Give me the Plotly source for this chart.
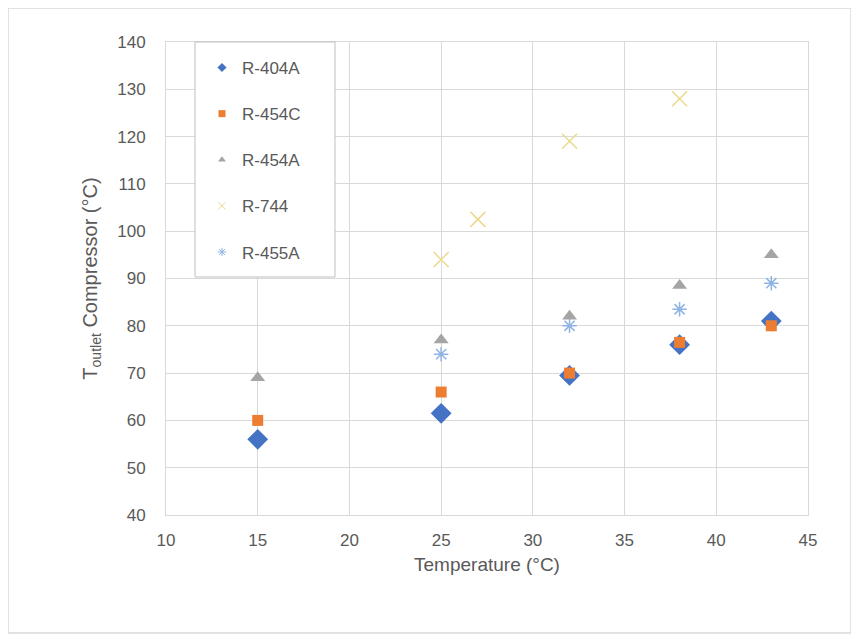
import plotly.graph_objects as go

names = ["R-404A", "R-454C", "R-454A", "R-744", "R-455A"]
x_404a = [15, 25, 32, 38, 43]
y_404a = [56, 61.5, 69.5, 76, 81]
x_454c = [15, 25, 32, 38, 43]
y_454c = [60, 66, 70, 76.5, 80]
x_454a = [15, 25, 32, 38, 43]
y_454a = [69, 77, 82, 88.5, 95]
x_744 = [25, 27, 32, 38]
y_744 = [94, 102.5, 119, 128]
x_455a = [25, 32, 38, 43]
y_455a = [74, 80, 83.5, 89]

# page body has an 8px margin; figure fills the rest of the 859x640 window
W, H = 851, 632
OFF = 8
PL, PR, PT, PB = 166, 808, 42, 515   # plot area in window pixels
L, T = PL - OFF, PT - OFF
pw, ph = PR - PL, PB - PT
R, B = W - L - pw, H - T - ph

def px(xp):
    return (xp - PL) / pw

def py(yp):
    return (PB - yp) / ph

FONT = "Liberation Sans, Arial, sans-serif"

fig = go.Figure()
specs = [
    (x_404a, y_404a, "diamond", "#4472C4", 16, 0),
    (x_454c, y_454c, "square", "#ED7D31", 11, 0),
    (x_454a, y_454a, "triangle-up", "#A5A5A5", 13, 0),
    (x_744, y_744, "x-thin", "#EBD98C", 15, 1.5),
    (x_455a, y_455a, "asterisk", "#8EB4E3", 12, 1.5),
]
for name, (xs, ys, sym, col, sz, lw) in zip(names, specs):
    mline = dict(width=lw, color=col) if lw else dict(width=0)
    fig.add_trace(go.Scatter(
        x=xs, y=ys, mode="markers", name=name, legendgroup=name, showlegend=False,
        marker=dict(symbol=sym, color=col, size=sz, line=mline),
    ))
    # small legend symbol, like the reference legend
    fig.add_trace(go.Scatter(
        x=[None], y=[None], mode="markers", name=name, legendgroup=name,
        marker=dict(symbol=sym, color=col, size=7, line=dict(width=1, color=col) if lw else dict(width=0)),
    ))

fig.update_layout(
    width=W, height=H,
    margin=dict(l=L, r=R, t=T, b=B),
    paper_bgcolor="white", plot_bgcolor="white",
    font=dict(family=FONT, color="#595959", size=17),
    xaxis=dict(range=[10, 45], dtick=5, showgrid=True, gridcolor="#D9D9D9",
               showline=True, linecolor="#D9D9D9", mirror=True, zeroline=False,
               ticks="", ticklabelstandoff=10,
               title=dict(text="Temperature (°C)", font=dict(size=19), standoff=8)),
    yaxis=dict(range=[40, 140], dtick=10, showgrid=True, gridcolor="#D9D9D9",
               showline=True, linecolor="#D9D9D9", mirror=True, zeroline=False,
               ticks="", ticklabelstandoff=16,
               title=dict(text="T<sub>outlet</sub> Compressor (°C)", font=dict(size=20), standoff=14)),
    legend=dict(x=px(202), y=py(50), xanchor="left", yanchor="top",
                bgcolor="rgba(0,0,0,0)", borderwidth=0, tracegroupgap=21,
                font=dict(size=17, color="#595959"), itemwidth=30),
    shapes=[
        dict(type="rect", xref="paper", yref="paper",
             x0=px(8), x1=px(851), y0=py(633), y1=py(8),
             line=dict(color="#D9D9D9", width=1.5), layer="below"),
        dict(type="rect", xref="paper", yref="paper",
             x0=px(195), x1=px(335), y0=py(277), y1=py(42),
             line=dict(color="#BFBFBF", width=1), fillcolor="white", layer="above"),
    ],
)

fig.write_html("out.html")
